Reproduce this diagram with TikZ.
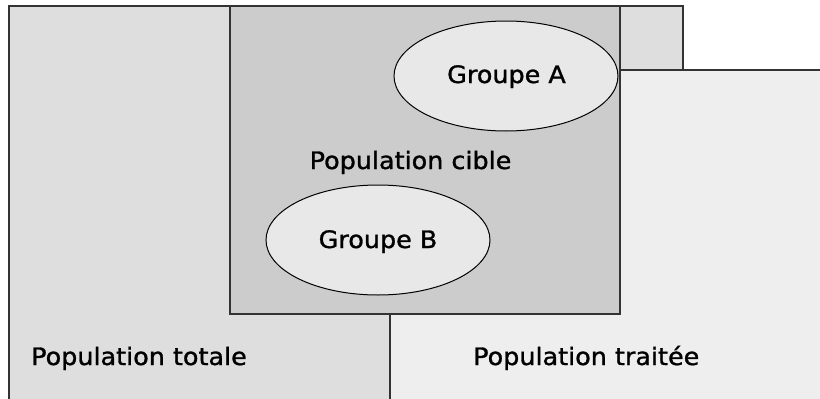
\documentclass[tikz,border=0pt]{standalone}
\usepackage{fontspec}
\setmainfont{DejaVu Sans}
\newfontfamily\lblfont[FakeStretch=1.06,FakeBold=1.2]{DejaVu Sans}
\usetikzlibrary{shapes.geometric}
\definecolor{totfill}{HTML}{DEDEDE}
\definecolor{trtfill}{HTML}{EEEEEE}
\definecolor{cibfill}{HTML}{CCCCCC}
\definecolor{grpfill}{HTML}{E8E8E8}
\definecolor{edge}{HTML}{333333}
\begin{document}
\begin{tikzpicture}[x=1pt,y=-1pt,
  region/.style={draw=edge, line width=1.5pt, inner sep=0pt, outer sep=0pt, anchor=north west},
  grp/.style={ellipse, draw=black, line width=1pt, fill=grpfill, minimum width=224pt, minimum height=110pt, inner sep=0pt},
  lbl/.style={font=\lblfont\fontsize{24}{28}\selectfont, inner sep=0pt, text=black}]
\useasboundingbox[fill=white] (0,0) rectangle (820,399);
\clip (0,0) rectangle (820,399);
\node[region, fill=totfill, minimum width=674pt, minimum height=420pt] (total) at (9,6) {};
\node[region, fill=trtfill, minimum width=460pt, minimum height=360pt] (traitee) at (390,70) {};
\node[region, fill=cibfill, minimum width=390pt, minimum height=308pt] (cible) at (230,6) {};
\node[grp] (grpA) at (506,76) {};
\node[grp] (grpB) at (378,240) {};
\node[lbl, anchor=base] (lA) at (506.5,83) {Groupe A};
\node[lbl, anchor=base] (lB) at (378,248) {Groupe B};
\node[lbl, anchor=base] (lcible) at (410.5,169) {Population cible};
\node[lbl, anchor=base west] (ltotal) at (31,365) {Population totale};
\node[lbl, anchor=base west] (ltrait) at (473,365) {Population traitée};
\end{tikzpicture}
\end{document}
